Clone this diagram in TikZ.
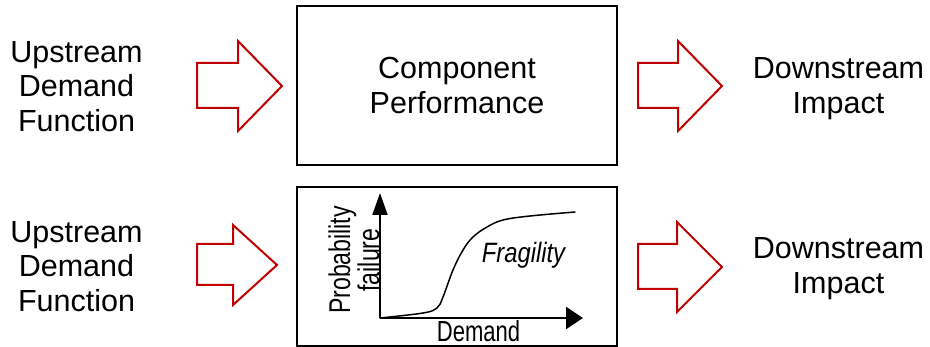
\documentclass[tikz,border=0pt]{standalone}
\usepackage{fontspec}
\usepackage{graphicx}
\setmainfont{Liberation Sans}
\usetikzlibrary{arrows.meta}
\definecolor{arrowred}{RGB}{192,0,0}
\newcommand{\narrow}[2]{\scalebox{#1}[1]{#2}}
\tikzset{
  bigtext/.style={align=center, inner sep=0pt, font=\fontsize{30.5}{34.5}\selectfont},
  panel/.style={draw=black, line width=2.5pt, inner sep=0pt},
  blockarrow/.style={draw=arrowred, line width=2pt, line join=miter, fill=white},
  axis/.style={line width=2pt},
}
\begin{document}
\begin{tikzpicture}[x=1pt,y=-1pt]
\useasboundingbox (0,0) rectangle (930,347);

% ---- upper row ----
\node[bigtext] (upA) at (76.5,86.5) {Upstream\\Demand\\Function};
\draw[blockarrow] (197,63) -- (238,63) -- (238,41) -- (282,86) -- (238,131) -- (238,108) -- (197,108) -- cycle;
\node[panel, minimum width=320pt, minimum height=159pt, bigtext, font=\fontsize{30.5}{35}\selectfont]
  (perf) at (457,85.5) {Component\\Performance};
\draw[blockarrow] (638,63) -- (678,63) -- (678,41) -- (722,86) -- (678,131) -- (678,108) -- (638,108) -- cycle;
\node[bigtext, font=\fontsize{30.5}{35}\selectfont] (downA) at (838.5,88.7) {Downstream\\Impact};

% ---- lower row ----
\node[bigtext] (upB) at (76.5,266.5) {Upstream\\Demand\\Function};
\draw[blockarrow] (197,244) -- (233,244) -- (233,225) -- (277,265) -- (233,305) -- (233,285) -- (197,285) -- cycle;
\node[panel, minimum width=320pt, minimum height=159pt] (frag) at (457,266.5) {};
\draw[blockarrow] (638,244) -- (677,244) -- (677,222) -- (722,267) -- (677,312) -- (677,289) -- (638,289) -- cycle;
\node[bigtext, font=\fontsize{30.5}{35}\selectfont] (downB) at (838.5,268.7) {Downstream\\Impact};

% ---- fragility plot inside the lower panel ----
\coordinate (origin) at (380,318);
\coordinate (ytip) at (380,193);
\coordinate (xtip) at (583,318);
\draw[axis, -{Triangle[length=22pt,width=15pt]}] (origin) -- (ytip);
\draw[axis, -{Triangle[length=17pt,width=22pt]}] (origin) -- (xtip);
\draw[line width=1.5pt, line cap=round] plot[smooth, tension=0.6] coordinates
  {(380,318) (423,313) (437,308) (443,297) (453,270) (463,250) (473,237) (487,227) (503,220) (530,216) (575,212)};
\node[anchor=base, inner sep=0pt, font=\fontsize{29}{29}\selectfont] (dem) at (478.5,342) {\narrow{0.76}{Demand}};
\node[anchor=base, inner sep=0pt, font=\fontsize{28}{28}\selectfont\itshape] (fr) at (523.5,263) {\narrow{0.85}{Fragility}};
\node[rotate=90, align=center, inner sep=0pt, font=\fontsize{30}{26}\selectfont] (prob) at (354,260)
  {\narrow{0.77}{Probability}\\\narrow{0.77}{failure}};
\end{tikzpicture}
\end{document}
